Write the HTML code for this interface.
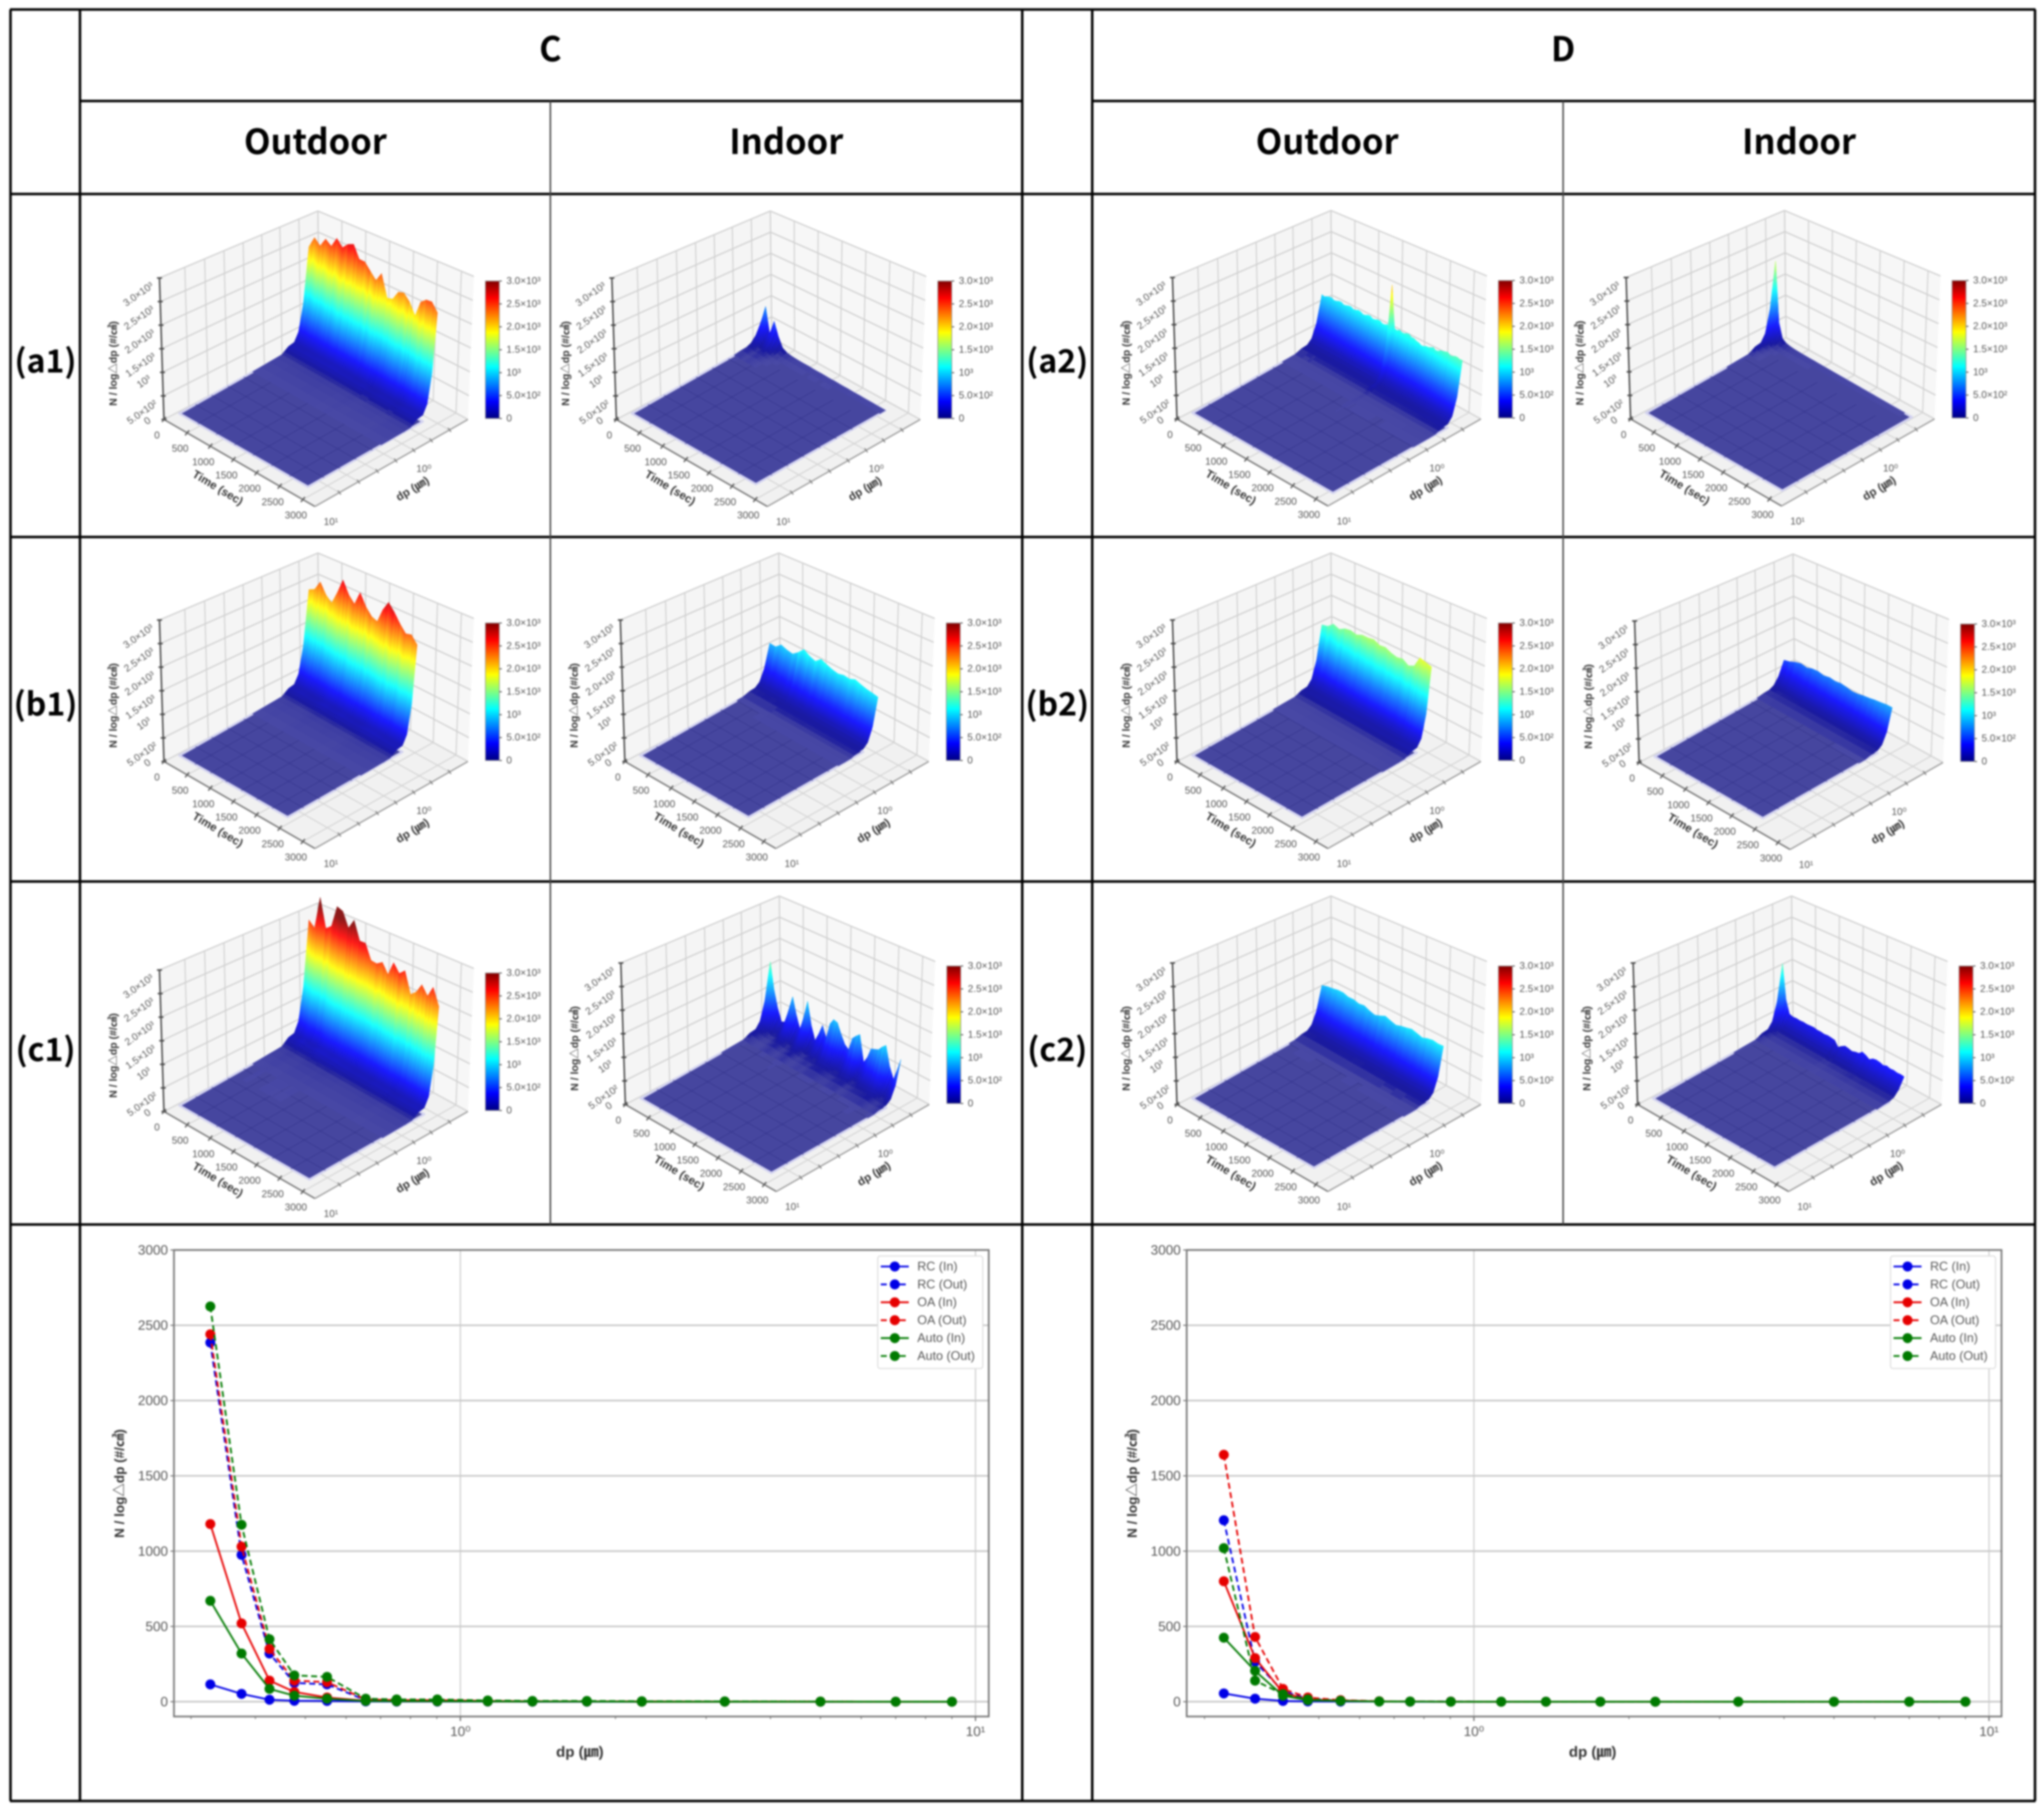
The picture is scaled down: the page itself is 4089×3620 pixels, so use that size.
<!DOCTYPE html>
<html lang="en">
<head>
<meta charset="utf-8">
<title>Particle size distribution comparison table</title>
<style>
html,body{margin:0;padding:0;background:#fff;}
#figure{display:block;filter:blur(1.9px);font-family:"Liberation Sans","Noto Sans CJK KR",sans-serif;}
.head{font-family:"Noto Sans CJK KR","Liberation Sans",sans-serif;font-weight:700;fill:#000;text-anchor:middle;dominant-baseline:central;}
.line{stroke:#000;stroke-width:5;}
.thin{stroke:#444;stroke-width:3;}
</style>
</head>
<body>
<svg id="figure" xmlns="http://www.w3.org/2000/svg" width="4089" height="3620" viewBox="0 0 4089 3620">
<rect x="0" y="0" width="4089" height="3620" fill="#ffffff"/>
<g id="panels"></g>
<g>
<line class="line" x1="20" y1="19" x2="4072" y2="19"/>
<line class="line" x1="20" y1="3602" x2="4072" y2="3602"/>
<line class="line" x1="21" y1="19" x2="21" y2="3602"/>
<line class="line" x1="4071" y1="19" x2="4071" y2="3602"/>
<line class="line" x1="160" y1="19" x2="160" y2="3602"/>
<line class="line" x1="2045" y1="19" x2="2045" y2="3602"/>
<line class="line" x1="2185" y1="19" x2="2185" y2="3602"/>
<line class="line" x1="160" y1="202" x2="2045" y2="202"/>
<line class="line" x1="2185" y1="202" x2="4071" y2="202"/>
<line class="line" x1="21" y1="388" x2="4071" y2="388"/>
<line class="line" x1="21" y1="1074" x2="4071" y2="1074"/>
<line class="line" x1="21" y1="1763" x2="4071" y2="1763"/>
<line class="line" x1="21" y1="2449" x2="4071" y2="2449"/>
<line class="thin" x1="1101" y1="202" x2="1101" y2="2449"/>
<line class="thin" x1="3127" y1="202" x2="3127" y2="2449"/>
</g>
<g>
<text class="head" x="1101" y="93" font-size="68">C</text>
<text class="head" x="3127" y="93" font-size="68">D</text>
<text class="head" x="631" y="278" font-size="69">Outdoor</text>
<text class="head" x="1573" y="278" font-size="69">Indoor</text>
<text class="head" x="2655" y="278" font-size="69">Outdoor</text>
<text class="head" x="3599" y="278" font-size="69">Indoor</text>
<text class="head" x="91" y="718" font-size="64">(a1)</text>
<text class="head" x="91" y="1404" font-size="64">(b1)</text>
<text class="head" x="91" y="2095" font-size="64">(c1)</text>
<text class="head" x="2115" y="718" font-size="64">(a2)</text>
<text class="head" x="2115" y="1404" font-size="64">(b2)</text>
<text class="head" x="2115" y="2095" font-size="64">(c2)</text>
</g>
</svg>
<script>
// ---------- data: particle size bins and 2D size distributions ----------
const dpBins = [0.327,0.376,0.426,0.476,0.551,0.655,0.752,0.902,1.13,1.38,1.76,2.25,3.26,5.0,7.0,9.0];
const yTicks2D = [0,500,1000,1500,2000,2500,3000];
const rcInC = [115,52,13,6,5,2,1,1,1,0,0,0,0,0,0,0];
const rcOutC = [2385,975,320,125,115,10,6,5,3,2,1,1,1,0,0,0];
const oaInC = [1180,520,140,65,28,6,3,3,2,1,1,0,0,0,0,0];
const oaOutC = [2440,1030,350,140,130,15,10,10,5,3,2,2,1,1,0,0];
const autoInC = [670,320,85,40,20,5,3,3,2,1,1,0,0,0,0,0];
const autoOutC = [2625,1175,415,175,165,20,15,15,8,5,5,3,2,1,0,0];
const rcInD = [55,20,5,2,1,1,0,0,0,0,0,0,0,0,0,0];
const rcOutD = [1205,265,70,20,8,2,1,1,0,0,0,0,0,0,0,0];
const oaInD = [800,290,60,15,8,2,1,0,0,0,0,0,0,0,0,0];
const oaOutD = [1640,430,85,28,10,3,1,1,0,0,0,0,0,0,0,0];
const autoInD = [425,205,40,10,5,1,1,0,0,0,0,0,0,0,0,0];
const autoOutD = [1020,140,50,15,6,2,1,0,0,0,0,0,0,0,0,0];
const legendLabels = ['RC (In)','RC (Out)','OA (In)','OA (Out)','Auto (In)','Auto (Out)'];

// ---------- data: 3D surfaces (fraction of peak per size bin, ridge peak over time) ----------
const sizeProfile = [1,0.43,0.15,0.065,0.055,0.008,0.006,0.005,0.003,0.002,0.002,0.001,0.001,0,0,0];
const timeTicks = [0,500,1000,1500,2000,2500,3000];
const zTicks = [0,500,1000,1500,2000,2500,3000];
const zTickLabels = ['0','5.0×10²','10³','1.5×10³','2.0×10³','2.5×10³','3.0×10³'];

const durA1Out = 2745;
const peakA1Out = [2120,2400,2285,2510,2420,2670,2534,2680,2755,2490,2500,2357,2222,2450,1966,2018,2245,2300,2170,1923,2307,2432,2460,2284];
const durA1In = 2650;
const peakA1In = [420,818,240,590,300,95,42,28,20,16,14,18,13,11,15,12,10,14,11,9,12,10,8,11,9,8,10,8,7,9];
const durA2Out = 3000;
const peakA2Out = [1020,1005,1040,1060,1075,1045,1060,1090,1100,1070,1085,1110,1120,1090,1105,1135,1130,1100,1115,1150,1160,1125,1140,1170,1175,1140,1150,1185,1165,2150,1190,1175,1220,1195,1200,1235,1250,1210,1215,1190,1180,1150,1160,1195,1200,1230,1260,1225,1240,1285,1300,1320,1340,1295,1310,1345,1350,1330,1345];
const durA2In = 2910;
const peakA2In = [1784,420,110,55,35,26,20,18,15,14,13,14,12,11,12,10,11,9,10,9,10,8,9,8,9,7,8,7,8,6,7,6,7,6,6,5,6,5,5,5];
const durB1Out = 2310;
const peakB1Out = [2100,2180,2420,2200,2090,2400,2760,2500,2360,2693,2450,2300,2260,2600,2840,2690,2500,2350,2400,2245];
const durB1In = 2310;
const peakB1In = [880,875,990,950,932,1040,1180,1100,1060,1180,1130,1090,1068,1110,1100,1160,1120,1090,1075,1056];
const durB2Out = 2340;
const peakB2Out = [1300,1340,1465,1420,1510,1545,1520,1590,1600,1636,1580,1610,1557,1530,1570,1490,1560,1818,1790,1761];
const durB2In = 2310;
const peakB2In = [520,557,620,660,640,690,705,680,715,700,727,710,690,704,740,760,790,810,835,841];
const durC1Out = 2775;
const peakC1Out = [2545,2432,3205,2568,2700,3216,3182,2875,3125,2727,2750,2431,2431,2534,2330,2670,2500,2636,2170,2300,2534,2352,2625,2261];
const durC1In = 2790;
const peakC1In = [1443,850,480,220,260,600,932,560,280,620,1023,520,227,430,670,420,800,943,920,700,520,454,761,860,943,363,520,761,800,841,950,1034,602,358,620,909];
const durC2Out = 2595;
const peakC2Out = [900,943,966,1000,1010,977,990,960,988,940,909,960,1023,985,954,1000,1030,1068,1040,1010,1060,1091,1075,1091];
const durC2In = 2595;
const peakC2In = [1398,620,340,318,330,325,335,330,340,350,335,340,330,345,340,330,216,280,330,320,300,330,345,420,390,340,400,420,410,385,420,398,410,395,405,398];

// ---------- helpers ----------
const NS = 'http://www.w3.org/2000/svg';
const FONT_GREY = '#555555';
function svgEl(tag, name, attrs, parent) {
  const el = document.createElementNS(NS, tag);
  
  
  for (const k in attrs) el.setAttribute(k, attrs[k]);
  parent.appendChild(el);
  return el;
}
function svgText(name, str, attrs, parent) {
  const el = svgEl('text', name, attrs, parent);
  el.textContent = str;
  return el;
}
const clamp01 = v => Math.max(0, Math.min(1, v));
function jet(v) {
  v = clamp01(v);
  return [
    clamp01(Math.min(4 * v - 1.5, -4 * v + 4.5)),
    clamp01(Math.min(4 * v - 0.5, -4 * v + 3.5)),
    clamp01(Math.min(4 * v + 0.5, -4 * v + 2.5))
  ];
}
function surfaceColor(z) {
  const c = jet(z / 3000);
  const m = z < 60 ? 0.3 - 0.2 * z / 60 : 0.1;
  const f = ch => Math.round((ch * (1 - m) + m) * 255);
  return 'rgb(' + f(c[0]) + ',' + f(c[1]) + ',' + f(c[2]) + ')';
}
const lerp = (a, b, f) => [a[0] + (b[0] - a[0]) * f, a[1] + (b[1] - a[1]) * f];
const pts = list => list.map(p => p[0].toFixed(1) + ',' + p[1].toFixed(1)).join(' ');

// box geometry relative to the back-top corner of each 3D axes
const Lb = [-308, 417], Fb = [-6, 591], Rb = [300, 417], Bb = [3, 254];
const Lt = [-317, 134], Bt = [0, 0], Rt = [312, 131];
const P00 = [-277, 405], P10 = [4, 565], P01 = [-18, 258], P11 = [263, 418];
const Z_SCALE = 0.088;
const CB_W = 28, CB_H = 275;
const dpWallFracs = [0.16, 0.285, 0.407, 0.528, 0.646, 0.76, 0.88];
const timeFrac = sec => 0.92 * sec / 3000;
const dpLogMax = Math.log10(dpBins[dpBins.length - 1]);
const dpLogMin = Math.log10(dpBins[0]);
const sizePos = dp => (dpLogMax - Math.log10(dp)) / (dpLogMax - dpLogMin);

function floorPt(t, d) { return lerp(lerp(Lb, Fb, t), lerp(Bb, Rb, t), d); }
function leftWall(f, z) { return lerp(lerp(Lb, Bb, f), lerp(Lt, Bt, f), z / 3000); }
function rightWall(f, z) { return lerp(lerp(Bb, Rb, f), lerp(Bt, Rt, f), z / 3000); }
function surfPt(t, s, z) {
  const p = lerp(lerp(P00, P10, t), lerp(P01, P11, t), s);
  return [p[0], p[1] - z * Z_SCALE];
}

const panelsRoot = document.getElementById('panels');
const defs = svgEl('defs', 'gradient-definitions', {}, panelsRoot);
const jetGrad = svgEl('linearGradient', 'jet-gradient', {id: 'jetGrad', x1: 0, y1: 1, x2: 0, y2: 0}, defs);
for (let i = 0; i <= 32; i++) {
  const c = jet(i / 32);
  svgEl('stop', 'jet-stop', {offset: (i / 32).toFixed(4), 'stop-color': 'rgb(' + c.map(v => Math.round(v * 255)).join(',') + ')'}, jetGrad);
}

// ---------- 3D panel ----------
function drawSurfacePanel(panelName, bx, by, peaks, duration) {
  const g = svgEl('g', 'surface-panel-' + panelName, {transform: 'translate(' + bx + ',' + by + ')'}, panelsRoot);
  // panes
  svgEl('polygon', 'left-wall-pane', {points: pts([Lb, Bb, Bt, Lt]), fill: '#f5f5f5'}, g);
  svgEl('polygon', 'right-wall-pane', {points: pts([Bb, Rb, Rt, Bt]), fill: '#f7f7f7'}, g);
  svgEl('polygon', 'floor-pane', {points: pts([Lb, Fb, Rb, Bb]), fill: '#f1f1f1'}, g);
  const gridStyle = {stroke: '#d0d0d0', 'stroke-width': 2.6, fill: 'none'};
  // z grid
  zTicks.forEach(z => {
    svgEl('polyline', 'z-gridline', Object.assign({points: pts([leftWall(0, z), leftWall(1, z), rightWall(1, z)])}, gridStyle), g);
  });
  // verticals
  dpWallFracs.forEach(f => {
    svgEl('line', 'dp-wall-gridline', {x1: leftWall(f, 0)[0], y1: leftWall(f, 0)[1], x2: leftWall(f, 3000)[0], y2: leftWall(f, 3000)[1], stroke: '#d0d0d0', 'stroke-width': 2.2}, g);
    const a = floorPt(0, f), b = floorPt(1, f);
    svgEl('line', 'dp-floor-gridline', {x1: a[0], y1: a[1], x2: b[0], y2: b[1], stroke: '#d4d4d4', 'stroke-width': 2.2}, g);
  });
  timeTicks.forEach(sec => {
    const f = timeFrac(sec);
    svgEl('line', 'time-wall-gridline', {x1: rightWall(f, 0)[0], y1: rightWall(f, 0)[1], x2: rightWall(f, 3000)[0], y2: rightWall(f, 3000)[1], stroke: '#d0d0d0', 'stroke-width': 2.2}, g);
    const a = floorPt(f, 0), b = floorPt(f, 1);
    svgEl('line', 'time-floor-gridline', {x1: a[0], y1: a[1], x2: b[0], y2: b[1], stroke: '#d4d4d4', 'stroke-width': 2.2}, g);
  });
  svgEl('line', 'back-corner-edge', {x1: Bt[0], y1: Bt[1], x2: Bb[0], y2: Bb[1], stroke: '#cfcfcf', 'stroke-width': 2.2}, g);

  // axes lines
  svgEl('line', 'z-axis-line', {x1: Lt[0], y1: Lt[1], x2: Lb[0], y2: Lb[1], stroke: '#444', 'stroke-width': 3}, g);
  svgEl('line', 'time-axis-line', {x1: Lb[0], y1: Lb[1], x2: Fb[0], y2: Fb[1], stroke: '#777', 'stroke-width': 3}, g);
  svgEl('line', 'dp-axis-line', {x1: Fb[0], y1: Fb[1], x2: Rb[0], y2: Rb[1], stroke: '#999', 'stroke-width': 2.6}, g);

  // z ticks + labels
  zTicks.forEach((z, i) => {
    const p = leftWall(0, z);
    svgEl('line', 'z-tick', {x1: p[0] - 5, y1: p[1], x2: p[0] + 5, y2: p[1], stroke: '#444', 'stroke-width': 3}, g);
    const lab = zTickLabels[i];
    const off = lab === '0' ? [-33, 3] : (lab === '10³' ? [-37, 19] : [-42, 33]);
    const lx = p[0] + off[0], ly = p[1] + off[1];
    svgText('z-tick-label', lab, {x: lx, y: ly, 'font-size': 20, fill: FONT_GREY, 'text-anchor': 'middle', 'dominant-baseline': 'central', transform: 'rotate(-35 ' + lx + ' ' + ly + ')'}, g);
  });
  // time ticks + labels
  timeTicks.forEach(sec => {
    const f = timeFrac(sec);
    const p = floorPt(f, 0);
    svgEl('line', 'time-tick', {x1: p[0] - 4, y1: p[1] + 5, x2: p[0] + 4, y2: p[1] - 5, stroke: '#555', 'stroke-width': 2.6}, g);
    svgText('time-tick-label', String(sec), {x: p[0] - 14, y: p[1] + 32, 'font-size': 20, fill: FONT_GREY, 'text-anchor': 'middle', 'dominant-baseline': 'central'}, g);
  });
  // dp ticks
  dpWallFracs.forEach(f => {
    const p = floorPt(1, f);
    svgEl('line', 'dp-tick', {x1: p[0] - 3, y1: p[1] - 4, x2: p[0] + 3, y2: p[1] + 4, stroke: '#777', 'stroke-width': 2}, g);
  });
  const dpTickFracs = [0, 0.608];
  ['10¹', '10⁰'].forEach((lab, i) => {
    const p = floorPt(1, dpTickFracs[i]);
    svgText('dp-tick-label', lab, {x: p[0] + 32, y: p[1] + 31, 'font-size': 20, fill: FONT_GREY, 'text-anchor': 'middle', 'dominant-baseline': 'central'}, g);
  });
  // axis titles
  svgText('z-axis-title', 'N / log△dp (#/㎤)', {x: -409, y: 305, 'font-size': 21, 'font-weight': 700, fill: '#333', 'text-anchor': 'middle', 'dominant-baseline': 'central', transform: 'rotate(-90 -409 305)'}, g);
  svgText('time-axis-title', 'Time (sec)', {x: -200, y: 553, 'font-size': 23, 'font-weight': 700, fill: '#333', 'text-anchor': 'middle', 'dominant-baseline': 'central', transform: 'rotate(31 -200 553)'}, g);
  svgText('dp-axis-title', 'dp (㎛)', {x: 189, y: 555, 'font-size': 23, 'font-weight': 700, fill: '#333', 'text-anchor': 'middle', 'dominant-baseline': 'central', transform: 'rotate(-31 189 555)'}, g);

  // surface base: the flat part stops where the ridge starts rising
  const tEnd = duration / 3000;
  const sPos = dpBins.map(sizePos);
  const n = peaks.length;
  const sg = svgEl('g', 'surface-' + panelName, {}, g);
  const outline = [surfPt(0, 0, 0), surfPt(tEnd, 0, 0)];
  for (let i = n - 1; i >= 0; i--) {
    const edge = peaks[i] > 150 ? sPos[3] : 1;
    outline.push(surfPt(tEnd * i / (n - 1), edge, 0));
  }
  svgEl('polygon', 'surface-floor', {points: pts(outline), fill: '#46469f', stroke: '#d2d2f0', 'stroke-width': 4.5, 'stroke-linejoin': 'round'}, sg);
  for (let i = 1; i < 7; i++) {
    const a = surfPt(tEnd * i / 7, 0, 0), b = surfPt(tEnd * i / 7, 0.87, 0);
    svgEl('line', 'surface-floor-line', {x1: a[0], y1: a[1], x2: b[0], y2: b[1], stroke: '#33338a', 'stroke-opacity': 0.55, 'stroke-width': 2}, sg);
    const c = surfPt(0, i * 0.87 / 7, 0), d = surfPt(tEnd, i * 0.87 / 7, 0);
    svgEl('line', 'surface-floor-line', {x1: c[0], y1: c[1], x2: d[0], y2: d[1], stroke: '#33338a', 'stroke-opacity': 0.55, 'stroke-width': 2}, sg);
  }
  // raised surface: painter's order, far (early time, small dp) to near
  for (let i = 0; i < n - 1; i++) {
    const t0 = tEnd * i / (n - 1), t1 = tEnd * (i + 1) / (n - 1);
    const ts = Math.max(1, Math.min(6, Math.ceil(Math.abs(peaks[i + 1] - peaks[i]) / 150)));
    for (let m = 0; m < ts; m++) {
      const a = m / ts, b = (m + 1) / ts;
      const ta = t0 + (t1 - t0) * a, tb = t0 + (t1 - t0) * b;
      const va = peaks[i] + (peaks[i + 1] - peaks[i]) * a, vb = peaks[i] + (peaks[i + 1] - peaks[i]) * b;
      for (let j = 0; j < dpBins.length - 1; j++) {
        const pj = sizeProfile[j], pk = sizeProfile[j + 1];
        if (Math.max(va, vb) * pj < 6) continue;
        const slices = Math.max(1, Math.ceil(Math.max(va, vb) * (pj - pk) / 50));
        for (let q = 0; q < slices; q++) {
          const u0 = q / slices, u1 = (q + 1) / slices;
          const s0 = sPos[j] + (sPos[j + 1] - sPos[j]) * u0, s1 = sPos[j] + (sPos[j + 1] - sPos[j]) * u1;
          const f0 = pj + (pk - pj) * u0, f1 = pj + (pk - pj) * u1;
          const corners = [surfPt(ta, s0, va * f0), surfPt(tb, s0, vb * f0), surfPt(tb, s1, vb * f1), surfPt(ta, s1, va * f1)];
          const col = surfaceColor((va * f0 + vb * f0 + vb * f1 + va * f1) / 4);
          svgEl('polygon', 'surface-facet', {points: pts(corners), fill: col, stroke: col, 'stroke-width': 0.8}, sg);
        }
      }
    }
  }

  // colorbar
  const cbx = 335, cby = 140;
  svgEl('rect', 'colorbar', {x: cbx, y: cby, width: CB_W, height: CB_H, fill: 'url(#jetGrad)', stroke: '#999', 'stroke-width': 1.5}, g);
  zTicks.forEach((z, i) => {
    const y = cby + CB_H * (1 - z / 3000);
    svgEl('line', 'colorbar-tick', {x1: cbx + CB_W, y1: y, x2: cbx + CB_W + 5, y2: y, stroke: '#555', 'stroke-width': 2}, g);
    svgText('colorbar-tick-label', zTickLabels[i], {x: cbx + 42, y: y, 'font-size': 20, fill: FONT_GREY, 'dominant-baseline': 'central'}, g);
  });
}

drawSurfacePanel('a1-outdoor', 636, 422, peakA1Out, durA1Out);
drawSurfacePanel('a1-indoor', 1541, 422, peakA1In, durA1In);
drawSurfacePanel('a2-outdoor', 2662.5, 421, peakA2Out, durA2Out);
drawSurfacePanel('a2-indoor', 3570, 421, peakA2In, durA2In);
drawSurfacePanel('b1-outdoor', 636, 1106, peakB1Out, durB1Out);
drawSurfacePanel('b1-indoor', 1558, 1106, peakB1In, durB1In);
drawSurfacePanel('b2-outdoor', 2662.5, 1106, peakB2Out, durB2Out);
drawSurfacePanel('b2-indoor', 3587, 1108, peakB2In, durB2In);
drawSurfacePanel('c1-outdoor', 636, 1806, peakC1Out, durC1Out);
drawSurfacePanel('c1-indoor', 1559, 1792, peakC1In, durC1In);
drawSurfacePanel('c2-outdoor', 2662.5, 1792, peakC2Out, durC2Out);
drawSurfacePanel('c2-indoor', 3584, 1792, peakC2In, durC2In);

// ---------- 2D line chart ----------
function drawLineChart(chartName, left, right, x1e0, x1e1, series) {
  const top = 2500, bottom = 3433, y0 = 3403.4, y3000 = 2500;
  const xPx = dp => x1e0 + (x1e1 - x1e0) * Math.log10(dp);
  const yPx = v => y0 + (y3000 - y0) * v / 3000;
  const g = svgEl('g', 'line-chart-' + chartName, {}, panelsRoot);
  yTicks2D.forEach(v => {
    svgEl('line', 'y-gridline', {x1: left, y1: yPx(v), x2: right, y2: yPx(v), stroke: '#c6c6c6', 'stroke-width': 3.2}, g);
    svgEl('line', 'y-tick', {x1: left - 7, y1: yPx(v), x2: left, y2: yPx(v), stroke: '#666', 'stroke-width': 2}, g);
    svgText('y-tick-label', String(v), {x: left - 12, y: yPx(v), 'font-size': 27, fill: FONT_GREY, 'text-anchor': 'end', 'dominant-baseline': 'central'}, g);
  });
  [1, 10].forEach(dec => {
    svgEl('line', 'x-gridline', {x1: xPx(dec), y1: top, x2: xPx(dec), y2: bottom, stroke: '#c9c9c9', 'stroke-width': 2.2}, g);
    svgEl('line', 'x-tick', {x1: xPx(dec), y1: bottom, x2: xPx(dec), y2: bottom + 9, stroke: '#666', 'stroke-width': 2.4}, g);
    svgText('x-tick-label', dec === 1 ? '10⁰' : '10¹', {x: xPx(dec), y: bottom + 30, 'font-size': 27, fill: FONT_GREY, 'text-anchor': 'middle', 'dominant-baseline': 'central'}, g);
  });
  [0.3, 0.4, 0.5, 0.6, 0.7, 0.8, 0.9, 2, 3, 4, 5, 6, 7, 8, 9].forEach(dp => {
    svgEl('line', 'x-minor-tick', {x1: xPx(dp), y1: bottom, x2: xPx(dp), y2: bottom + 5, stroke: '#777', 'stroke-width': 2}, g);
  });
  svgEl('rect', 'plot-frame', {x: left, y: top, width: right - left, height: bottom - top, fill: 'none', stroke: '#777', 'stroke-width': 3.4}, g);
  svgText('x-axis-title', 'dp (㎛)', {x: (left + right) / 2 - 3, y: 3504, 'font-size': 30, 'font-weight': 700, fill: '#333', 'text-anchor': 'middle', 'dominant-baseline': 'central'}, g);
  const ylx = left - 109;
  svgText('y-axis-title', 'N / log△dp (#/㎤)', {x: ylx, y: 2967, 'font-size': 27, 'font-weight': 700, fill: '#333', 'text-anchor': 'middle', 'dominant-baseline': 'central', transform: 'rotate(-90 ' + ylx + ' 2967)'}, g);

  series.forEach(s => {
    const sg = svgEl('g', 'series-' + s.label.toLowerCase().replace(/[^a-z]+/g, '-').replace(/-$/, ''), {}, g);
    const attrs = {points: s.values.map((v, i) => xPx(dpBins[i]).toFixed(1) + ',' + yPx(v).toFixed(1)).join(' '), fill: 'none', stroke: s.color, 'stroke-width': 3.6};
    if (s.dashed) attrs['stroke-dasharray'] = '12 7';
    svgEl('polyline', 'series-line', attrs, sg);
    s.values.forEach((v, i) => {
      svgEl('circle', 'series-point', {cx: xPx(dpBins[i]), cy: yPx(v), r: 10, fill: s.color}, sg);
    });
  });

  // legend
  const lx = right - 222, lg = svgEl('g', 'legend', {}, g);
  svgEl('rect', 'legend-box', {x: lx, y: 2512, width: 210, height: 225, rx: 5, fill: '#fff', stroke: '#dddddd', 'stroke-width': 2.2}, lg);
  series.forEach((s, i) => {
    const y = 2533 + i * 35.8;
    const a = {x1: lx + 6, y1: y, x2: lx + 62, y2: y, stroke: s.color, 'stroke-width': 3.6};
    if (s.dashed) a['stroke-dasharray'] = '12 7';
    svgEl('line', 'legend-line', a, lg);
    svgEl('circle', 'legend-marker', {cx: lx + 34, cy: y, r: 10, fill: s.color}, lg);
    svgText('legend-entry', s.label, {x: lx + 79, y: y, 'font-size': 25, fill: FONT_GREY, 'dominant-baseline': 'central'}, lg);
  });
}

function makeSeries(vals) {
  const colors = ['#0000e6', '#0000e6', '#e60000', '#e60000', '#007a00', '#007a00'];
  return vals.map((values, i) => ({label: legendLabels[i], color: colors[i], dashed: i % 2 === 1, values: values}));
}
drawLineChart('group-c', 348, 1978, 921, 1951.5, makeSeries([rcInC, rcOutC, oaInC, oaOutC, autoInC, autoOutC]));
drawLineChart('group-d', 2374, 4004, 2948.5, 3979, makeSeries([rcInD, rcOutD, oaInD, oaOutD, autoInD, autoOutD]));
</script>
</body>
</html>
